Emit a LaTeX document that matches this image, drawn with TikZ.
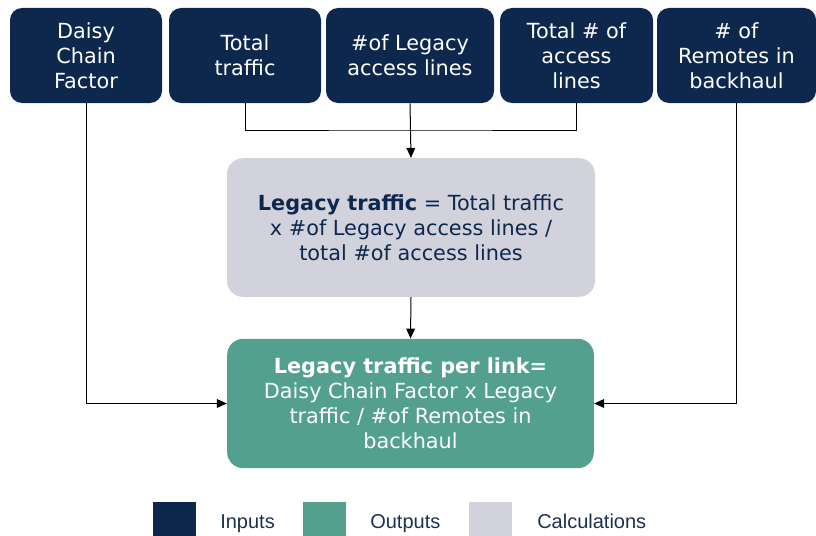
\documentclass[tikz,border=0pt]{standalone}
\usepackage{fontspec}
\setmainfont{DejaVu Sans}
\newfontfamily\legendfont{Liberation Sans}
\usetikzlibrary{arrows.meta, positioning, calc}
\definecolor{flowNavy}{RGB}{14,40,77}
\definecolor{flowTeal}{RGB}{83,160,142}
\definecolor{flowGray}{RGB}{210,210,221}
\definecolor{legendText}{RGB}{30,48,80}
\tikzset{
    flow/.style={x=0.75pt, y=-0.75pt, >={Triangle[length=7.5pt, width=6.5pt]},
                 font=\fontsize{15.6}{18.8}\selectfont},
    inputbox/.style={fill=flowNavy, text=white, rounded corners=9pt,
                     minimum height=71.25pt, minimum width=114pt,
                     align=center, inner sep=2pt},
    calcbox/.style={fill=flowGray, text=flowNavy, rounded corners=12pt,
                    minimum height=104pt, minimum width=276pt,
                    align=center, inner sep=2pt},
    outputbox/.style={fill=flowTeal, text=white, rounded corners=12pt,
                      minimum height=97pt, minimum width=275pt,
                      align=center, inner sep=2pt},
    link/.style={draw=black, line width=0.75pt},
    arrow/.style={link, ->},
    swatch/.style={minimum width=32pt, minimum height=25pt, inner sep=0pt},
    legendlabel/.style={font=\legendfont\fontsize{15}{18}\selectfont,
                        text=legendText, anchor=base west, inner sep=0pt},
}

\begin{document}
\begin{tikzpicture}[flow]
\useasboundingbox (0,0) rectangle (816,535);

% ─── Inputs ─────────────────────────────────────────────────────────────
\node[inputbox] (daisy)   at (86,55.5)  {Daisy\\Chain\\Factor};
\node[inputbox] (total)   at (245,55.5) {Total\\traffic};
\node[inputbox, minimum width=126pt] (legacy) at (410,55.5) {\#of Legacy\\access lines};
\node[inputbox, minimum width=114.75pt] (access) at (576.5,55.5) {Total \# of\\access\\lines};
\node[inputbox, minimum width=119.25pt] (remotes) at (736.5,55.5) {\# of\\Remotes in\\backhaul};

% ─── Calculation and output ─────────────────────────────────────────────
\node[calcbox]   (legtraffic) at (411,227.5) {\textbf{Legacy traffic} = Total traffic\\x \#of Legacy access lines /\\total \#of access lines};
\node[outputbox] (perlink)    at (410.5,403.5) {\textbf{Legacy traffic per link=}\\Daisy Chain Factor x Legacy\\traffic / \#of Remotes in\\backhaul};

% ─── Connectors ─────────────────────────────────────────────────────────
\coordinate (join) at (legacy.south |- 0,130);
\draw[link] (total.south) |- (join) -| (access.south);
\draw[arrow] (legacy.south) -- (legtraffic.north);
\draw[arrow] (legtraffic.south) -- (perlink.north);
\draw[arrow] (daisy.south) |- (perlink.west);
\draw[arrow] (remotes.south) |- (perlink.east);

% ─── Legend ─────────────────────────────────────────────────────────────
\node[swatch, fill=flowNavy, anchor=north west] (keyin)   at (153,502) {};
\node[swatch, fill=flowTeal, anchor=north west] (keyout)  at (303,502) {};
\node[swatch, fill=flowGray, anchor=north west] (keycalc) at (469,502) {};
\node[legendlabel] (labin)   at (220,528) {Inputs};
\node[legendlabel] (labout)  at (370,528) {Outputs};
\node[legendlabel] (labcalc) at (537,528) {Calculations};

\end{tikzpicture}
\end{document}
